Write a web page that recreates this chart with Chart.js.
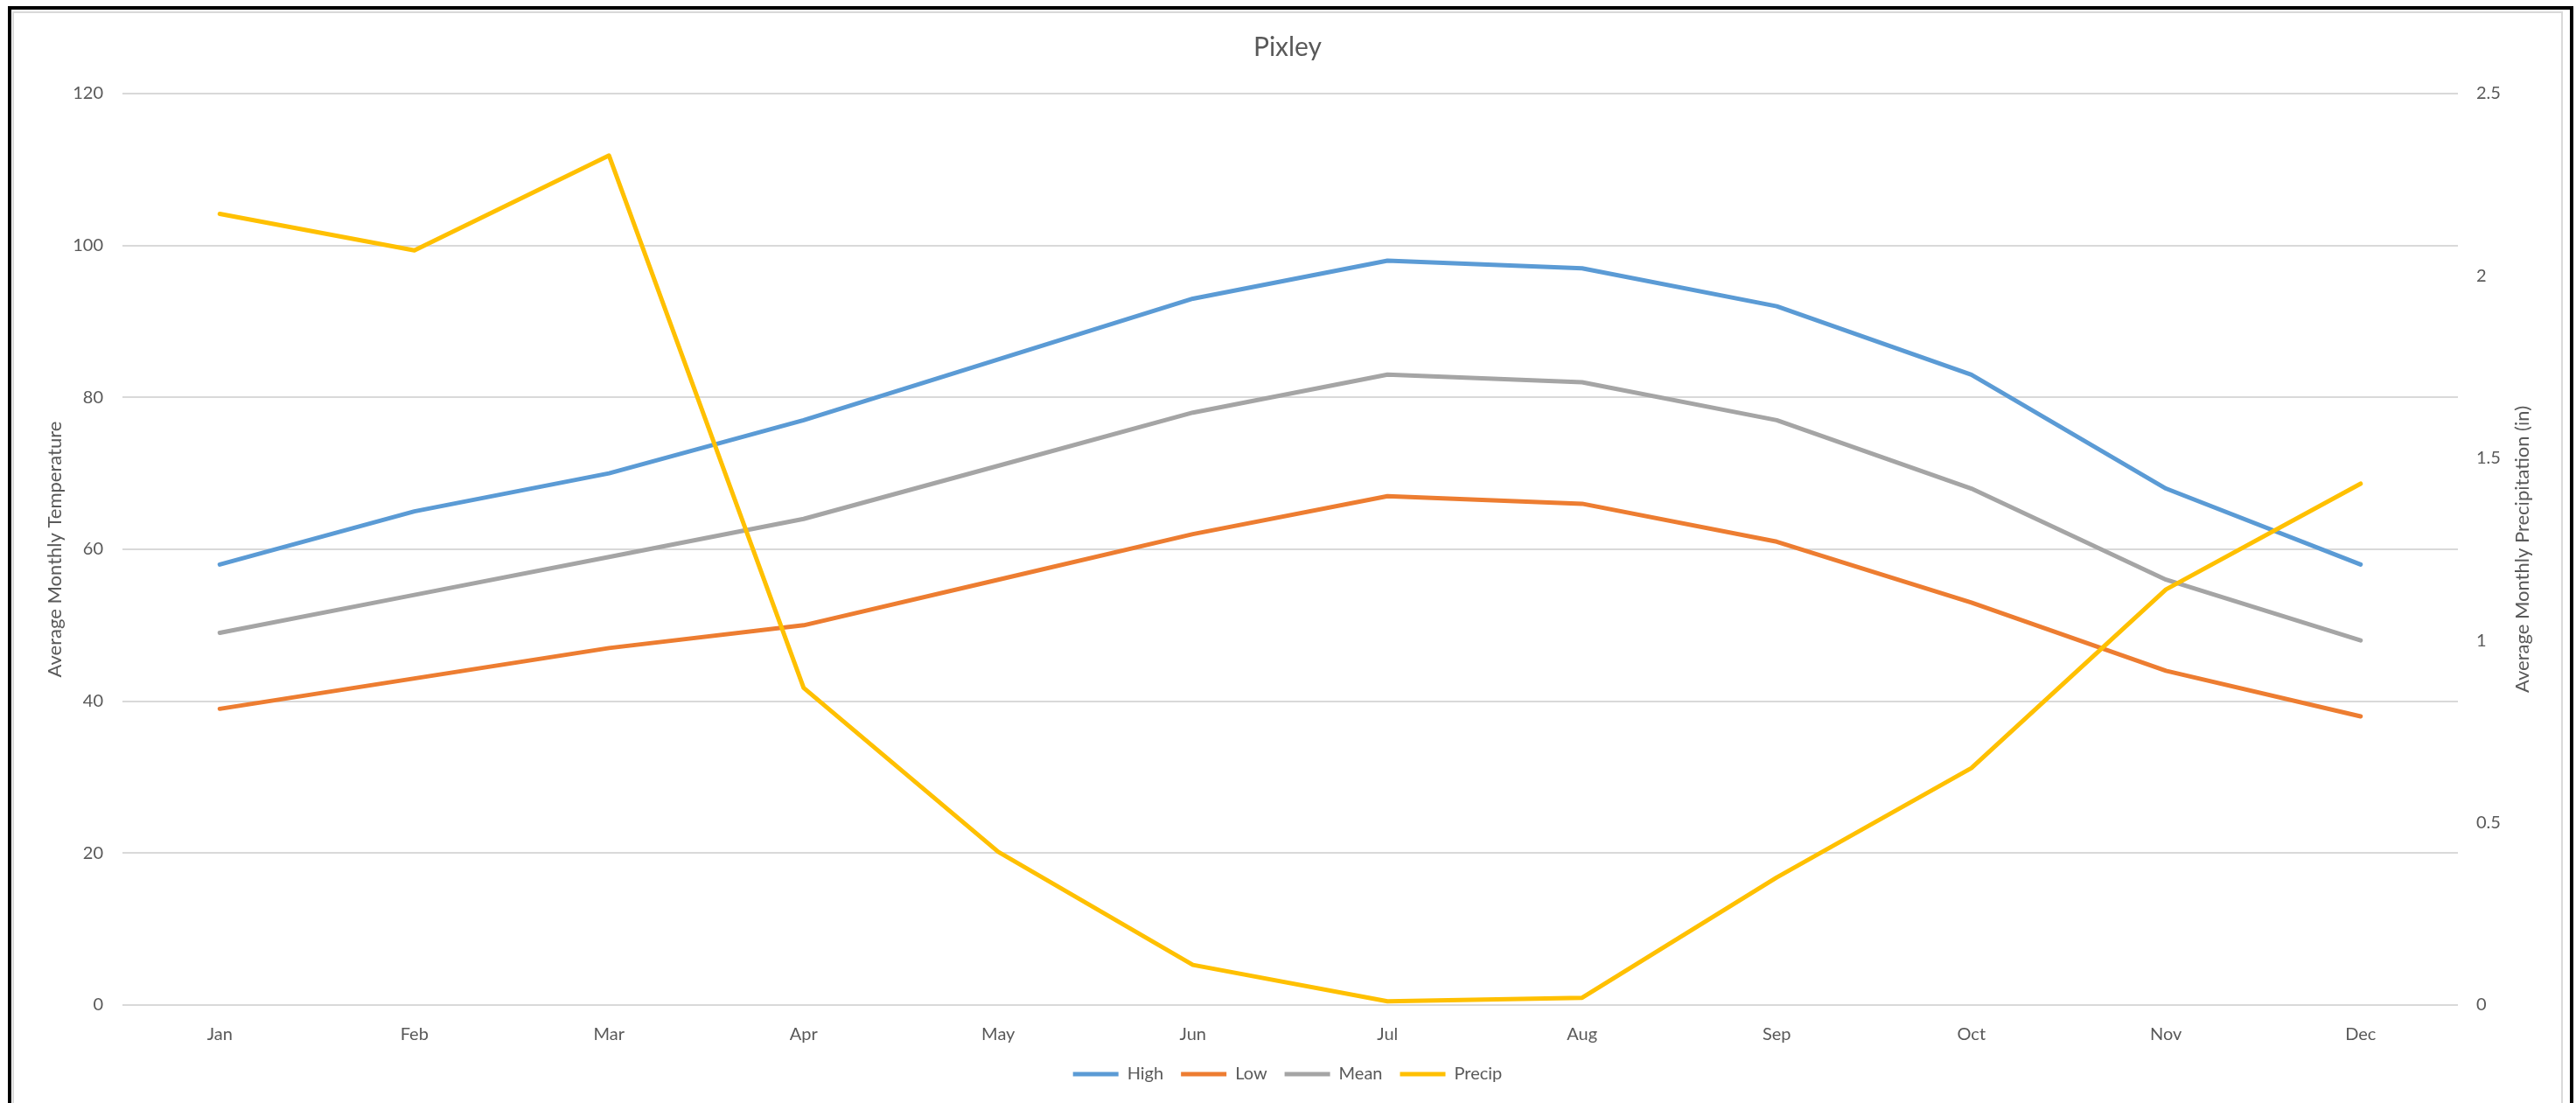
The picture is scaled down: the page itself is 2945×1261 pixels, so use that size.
<!DOCTYPE html>
<html>
  <head>
    <script src="https://cdn.jsdelivr.net/npm/chart.js@4.4.0/dist/chart.umd.min.js"></script>
    <style>
      html, body { margin: 0; padding: 0; background: #fff; }
    </style>
  </head>

  <body>
    <div style="width: 2945px; height: 1261px; position: absolute; left: 0; top: 0">
      <canvas id="canvas" width="2945" height="1261" style="width: 2945px; height: 1261px"></canvas>
    </div>
    <script>
      const chartTitle = 'Pixley';
      const leftAxisTitle = 'Average Monthly Temperature';
      const rightAxisTitle = 'Average Monthly Precipitation (in)';

      const months = ['Jan', 'Feb', 'Mar', 'Apr', 'May', 'Jun', 'Jul', 'Aug', 'Sep', 'Oct', 'Nov', 'Dec'];
      const high = [58, 65, 70, 77, 85, 93, 98, 97, 92, 83, 68, 58];
      const low = [39, 43, 47, 50, 56, 62, 67, 66, 61, 53, 44, 38];
      const mean = [49, 54, 59, 64, 71, 78, 83, 82, 77, 68, 56, 48];
      const precip = [2.17, 2.07, 2.33, 0.87, 0.42, 0.11, 0.01, 0.02, 0.35, 0.65, 1.14, 1.43];

      const textColor = '#595959';
      Chart.defaults.font.family = 'Lato';
      Chart.defaults.color = textColor;

      // white page, the black/grey frame and the right axis title (reads bottom to top)
      const frame = {
        id: 'frame',
        beforeDraw(chart) {
          const c = chart.ctx;
          c.save();
          c.fillStyle = '#fff';
          c.fillRect(0, 0, chart.width, chart.height);
          c.restore();
        },
        afterDraw(chart) {
          const c = chart.ctx;
          const h = chart.height;
          c.save();
          c.fillStyle = '#000';
          c.fillRect(9, 7, 4, h);
          c.fillRect(9, 7, 2933, 4);
          c.fillRect(2938, 7, 4, h);
          c.fillStyle = '#d9d9d9';
          c.fillRect(14, 13, 2, h);
          c.fillRect(14, 13, 2916, 2);
          c.fillRect(2928, 13, 2, h);

          const area = chart.chartArea;
          c.translate(2884, (area.top + area.bottom) / 2);
          c.rotate(-Math.PI / 2);
          c.font = '22px Lato';
          c.fillStyle = textColor;
          c.textAlign = 'center';
          c.textBaseline = 'middle';
          c.fillText(rightAxisTitle, 0, 0);
          c.restore();
        },
      };

      const line = (label, data, color, axis, order) => ({
        label,
        data,
        yAxisID: axis,
        order,
        borderColor: color,
        backgroundColor: color,
        borderWidth: 5,
        borderCapStyle: 'round',
        borderJoinStyle: 'round',
        pointRadius: 0,
        tension: 0,
      });

      new Chart(document.getElementById('canvas').getContext('2d'), {
        type: 'line',
        data: {
          labels: months,
          datasets: [
            line('High', high, '#5B9BD5', 'y', 4),
            line('Low', low, '#ED7D31', 'y', 3),
            line('Mean', mean, '#A5A5A5', 'y', 2),
            line('Precip', precip, '#FFC000', 'y1', 1),
          ],
        },
        plugins: [frame],
        options: {
          responsive: false,
          animation: false,
          devicePixelRatio: 1,
          layout: {
            padding: { left: 16, right: 17, top: 0, bottom: 13 },
          },
          plugins: {
            title: {
              display: true,
              text: chartTitle,
              color: textColor,
              font: { size: 30, weight: 'normal' },
              padding: { top: 36, bottom: 35 },
            },
            legend: {
              position: 'bottom',
              labels: {
                usePointStyle: true,
                pointStyle: 'line',
                pointStyleWidth: 52,
                padding: 20,
                color: textColor,
                font: { size: 20 },
                sort: (a, b) => a.datasetIndex - b.datasetIndex,
              },
            },
            tooltip: { enabled: false },
          },
          scales: {
            x: {
              offset: true,
              grid: { display: false },
              border: { display: false },
              ticks: { padding: 14, font: { size: 20 } },
              afterFit: (s) => {
                s.height = 49;
              },
            },
            y: {
              position: 'left',
              min: 0,
              max: 120,
              ticks: { stepSize: 20, padding: 22, font: { size: 20 } },
              grid: { color: '#d9d9d9', lineWidth: 2, drawTicks: false },
              border: { display: false },
              title: {
                display: true,
                text: leftAxisTitle,
                color: textColor,
                font: { size: 22 },
                padding: { top: 34, bottom: 0 },
              },
              afterFit: (s) => {
                s.width = 124;
              },
            },
            y1: {
              position: 'right',
              min: 0,
              max: 2.5,
              ticks: {
                stepSize: 0.5,
                padding: 21,
                font: { size: 20 },
                callback: (v) => String(v),
              },
              grid: { display: false, drawTicks: false },
              border: { display: false },
              afterFit: (s) => {
                s.width = 118;
              },
            },
          },
        },
      });
    </script>
  </body>
</html>
